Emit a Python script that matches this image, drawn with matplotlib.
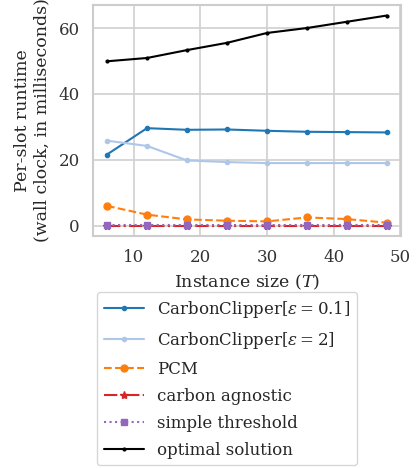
import matplotlib
matplotlib.use("Agg")
import matplotlib.pyplot as plt
import seaborn as sns

sns.set_style("whitegrid")
plt.rcParams['font.family'] = ['DejaVu Serif']
plt.rcParams['mathtext.fontset'] = 'dejavuserif'

T = [6, 12, 18, 24, 30, 36, 42, 48]
cc_01 = [21.6, 29.6, 29.1, 29.2, 28.8, 28.5, 28.4, 28.3]
cc_2 = [25.8, 24.2, 19.8, 19.3, 19.0, 19.0, 19.0, 19.0]
pcm = [6.0, 3.35, 1.9, 1.5, 1.3, 2.5, 2.0, 0.9]
agnostic = [0.05, 0.05, 0.05, 0.05, 0.05, 0.05, 0.05, 0.05]
threshold = [0.1, 0.1, 0.1, 0.1, 0.1, 0.1, 0.1, 0.1]
optimal = [49.9, 50.9, 53.3, 55.5, 58.5, 60.0, 61.9, 63.8]

fig = plt.figure(figsize=(4.2, 4.68), dpi=100)
ax = fig.add_axes([93/420, 1 - 236/468, 308/420, 231/468])

ax.plot(T, cc_01, color='#1f77b4', marker='.', markersize=6, lw=1.5,
        label=r'CarbonClipper[$\varepsilon = 0.1$]')
ax.plot(T, cc_2, color='#aec7e8', marker='.', markersize=6, lw=1.5,
        label=r'CarbonClipper[$\varepsilon = 2$]')
ax.plot(T, pcm, color='#ff7f0e', marker='o', markersize=5, lw=1.5, ls='--',
        label='PCM')
ax.plot(T, agnostic, color='#d62728', marker='*', markersize=6, lw=1.5, ls='-.',
        label='carbon agnostic')
ax.plot(T, threshold, color='#9467bd', marker='s', markersize=5, lw=1.5, ls=':',
        label='simple threshold')
ax.plot(T, optimal, color='black', marker='.', markersize=4, lw=1.5,
        label='optimal solution')

ax.set_xticks([10, 20, 30, 40, 50])
ax.set_yticks([0, 20, 40, 60])
ax.tick_params(labelsize=12, colors='#333333', pad=6)
for s in ax.spines.values():
    s.set_color('#cccccc')
    s.set_linewidth(1.5)
ax.grid(color='#d0d0d0', lw=1.2)

ax.set_xlabel('Instance size ($T$)', fontsize=12.5, labelpad=5)
ax.set_ylabel('Per-slot runtime\n(wall clock, in milliseconds)', fontsize=12.5,
              labelpad=6)

ax.legend(loc='upper left', bbox_to_anchor=(4/308, -56/231), fontsize=12,
          frameon=True, edgecolor='#cccccc', handlelength=2.4,
          labelspacing=0.6, borderpad=0.4, borderaxespad=0)

fig.savefig('out.png', dpi=100)
